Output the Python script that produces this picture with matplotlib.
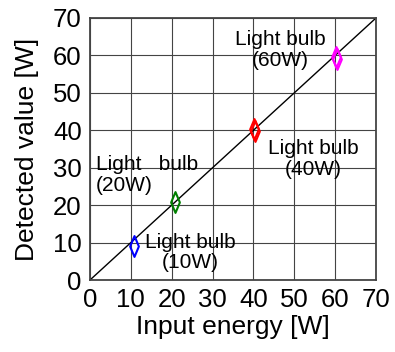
import numpy as np
import matplotlib.pyplot as plt
from matplotlib.path import Path

plt.rcParams['font.family'] = ['Liberation Sans', 'DejaVu Sans']

# measured points for each bulb (input, detected)
in_10w = [10.7]
det_10w = [9.1]
in_20w = [20.8]
det_20w = [20.8]
in_40w = [40.2, 40.5]
det_40w = [40.3, 39.7]
in_60w = [60.1, 60.4]
det_60w = [59.5, 59.0]

ticks = [0, 10, 20, 30, 40, 50, 60, 70]

# tall narrow diamond
diamond = Path([(0, 1), (0.42, 0), (0, -1), (-0.42, 0), (0, 1)],
               [Path.MOVETO, Path.LINETO, Path.LINETO, Path.LINETO, Path.CLOSEPOLY])

fig = plt.figure(figsize=(3.95, 3.52), dpi=100)
ax = fig.add_axes([0.2278, 0.2045, 0.7241, 0.7444])

ax.plot([0, 70], [0, 70], "-", color="black", lw=1.0, zorder=2)

for xs, ys, c in [(in_10w, det_10w, "blue"), (in_20w, det_20w, "green"),
                  (in_40w, det_40w, "red"), (in_60w, det_60w, "magenta")]:
    ax.plot(xs, ys, linestyle="none", marker=diamond, markersize=15,
            markerfacecolor="none", markeredgecolor=c, markeredgewidth=1.5, zorder=3)

ax.set_xlim(0, 70)
ax.set_ylim(0, 70)
ax.set_xticks(ticks)
ax.set_yticks(ticks)
ax.tick_params(length=0, labelsize=18.5, pad=6)
ax.grid(True, color="#444444", lw=0.8)
ax.set_axisbelow(True)
for s in ax.spines.values():
    s.set_color("#444444")
    s.set_linewidth(1.3)

ax.text(46.5, 61.5, "Light bulb\n(60W)", ha="center", va="center", fontsize=15, linespacing=1.1)
ax.text(54.6, 32.3, "Light bulb\n(40W)", ha="center", va="center", fontsize=15, linespacing=1.1)
ax.text(1.4, 28.0, "Light   bulb\n(20W)", ha="left", va="center", fontsize=15, linespacing=1.1)
ax.text(24.6, 7.3, "Light bulb\n(10W)", ha="center", va="center", fontsize=15, linespacing=1.1)

ax.set_xlabel("Input energy [W]", fontsize=19, labelpad=2)
ax.set_ylabel("Detected value [W]", fontsize=19, labelpad=10)

fig.savefig("out.png", dpi=100)
